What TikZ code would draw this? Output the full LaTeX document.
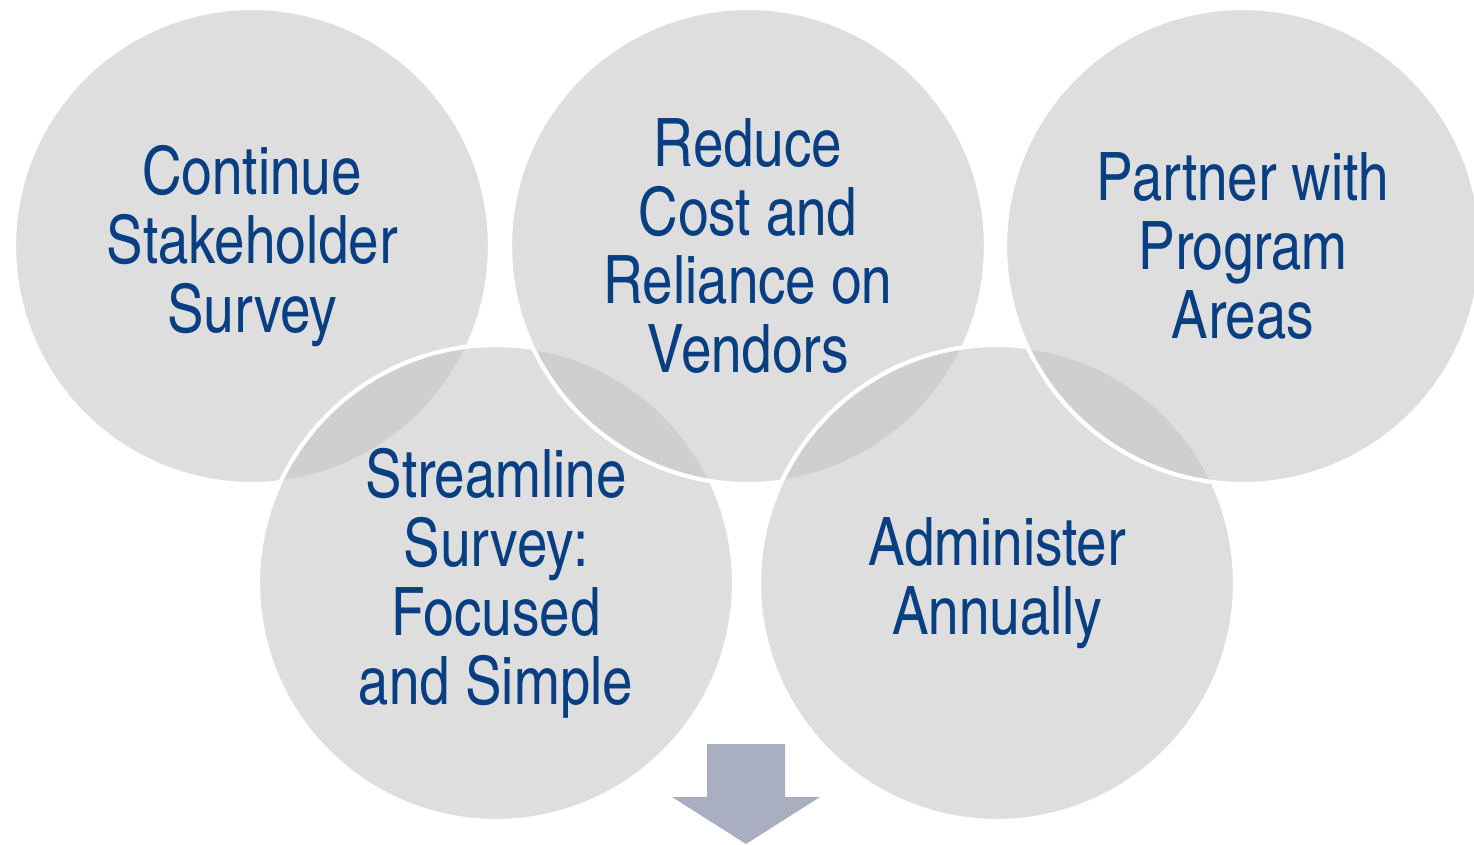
\documentclass[tikz,border=0pt]{standalone}
\usepackage{fontspec}
\setmainfont{TeX Gyre Heros Cn}
\usetikzlibrary{positioning}
\definecolor{ringgray}{RGB}{195,195,195}
\definecolor{textblue}{RGB}{8,62,130}
\definecolor{arrowgray}{RGB}{169,174,192}

\tikzset{
    ring/.style={circle, draw=white, line width=2.4pt, fill=ringgray, fill opacity=0.55,
        text opacity=1, minimum size=9.52cm, inner sep=0pt, align=center,
        text=textblue, font=\fontsize{38}{39.2}\selectfont}
}

\begin{document}
\begin{tikzpicture}
    \useasboundingbox (0,0) rectangle (29.48,16.88);
    \begin{scope}
    \clip (0,0) rectangle (29.48,16.88);
    % five rings, top row first then the lower pair, in drawing order
    \node[ring] (survey) at (5.04,11.96) {Continue\\Stakeholder\\Survey};
    \node[ring] (streamline) at (9.92,5.22) {Streamline\\Survey:\\Focused\\and Simple};
    \node[ring] (cost) at (14.96,11.96) {Reduce\\Cost and\\Reliance on\\Vendors};
    \node[ring] (annual) at (19.94,5.22) {Administer\\Annually};
    \node[ring] (partner) at (24.86,11.96) {Partner with\\Program\\Areas};

    % block arrow pointing down
    \coordinate (tip) at (14.92,0);
    \fill[arrowgray] (tip) -- ++(-1.48,0.94) -- ++(0.70,0) -- ++(0,1.06) -- ++(1.56,0)
        -- ++(0,-1.06) -- ++(0.70,0) -- cycle;
    \end{scope}
\end{tikzpicture}
\end{document}
